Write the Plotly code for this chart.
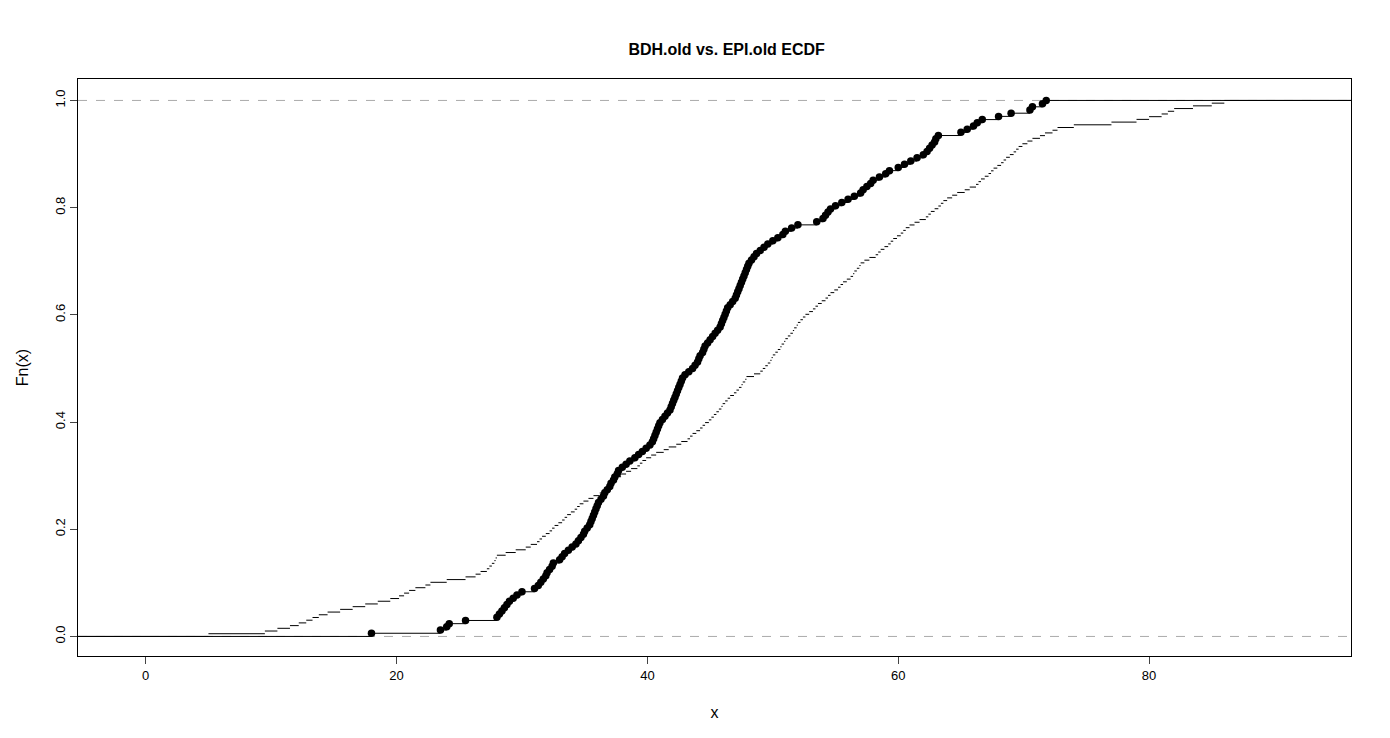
import numpy as np
import plotly.graph_objects as go

bdh_old = [18.0, 23.5, 24.0, 24.2, 25.5, 28.0,
    28.2, 28.4, 28.6, 28.8, 29.0, 29.3, 29.6, 30.0, 31.0,
    31.3, 31.5, 31.7, 31.9, 32.0, 32.2, 32.4, 32.5, 33.0, 33.2, 33.4,
    33.7, 34.0, 34.3, 34.5, 34.7, 34.9, 35.0, 35.2,
    35.4, 35.5, 35.6, 35.7, 35.8, 35.9, 36.0, 36.1,
    36.3, 36.5, 36.6, 36.8, 37.0, 37.1, 37.3, 37.4, 37.6, 37.7,
    38.0, 38.3, 38.6, 39.0, 39.3, 39.6, 39.9, 40.2, 40.4, 40.5,
    40.6, 40.7, 40.8, 40.9, 41.0, 41.2, 41.4, 41.6, 41.8, 41.9,
    42.0, 42.1, 42.2, 42.3, 42.4, 42.5, 42.6, 42.7, 42.8, 43.0, 43.3, 43.6, 43.8,
    44.0, 44.1, 44.2, 44.4, 44.5, 44.6, 44.8, 45.0, 45.2, 45.4, 45.6, 45.8,
    45.9, 46.0, 46.1, 46.2, 46.3, 46.4, 46.6, 46.8, 47.0, 47.1, 47.2, 47.3, 47.4,
    47.5, 47.6, 47.7, 47.8, 47.9, 48.0, 48.1, 48.3, 48.5, 48.7, 49.0,
    49.3, 49.6, 50.0, 50.4, 50.8, 51.0, 51.5, 52.0, 53.5, 54.0,
    54.2, 54.4, 54.6, 55.0, 55.5, 56.0, 56.5, 57.0, 57.2, 57.5, 57.8, 58.0,
    58.5, 59.0, 59.3, 60.0, 60.5, 61.0, 61.5, 62.0, 62.3, 62.5,
    62.7, 62.9, 63.0, 63.2, 65.0, 65.5, 66.0, 66.3, 66.7, 68.0, 69.0,
    70.5, 70.7, 71.5, 71.8]

epi_old = [5.0, 9.5, 10.5, 11.5, 12.2, 12.8, 13.3, 13.8, 14.5, 15.5, 16.5, 17.5,
    18.5, 19.5, 20.2, 20.6, 21.0, 21.5, 22.3, 22.7, 24.0, 25.5, 26.3, 26.7,
    27.2, 27.4, 27.6, 27.8, 27.9, 28.0, 28.7, 29.5, 30.3, 30.7,
    31.2, 31.4, 31.6, 31.9, 32.2, 32.4, 32.6, 32.9, 33.2, 33.4, 33.6, 33.9,
    34.2, 34.4, 34.6, 34.9, 35.3, 35.7, 36.2, 36.4, 36.6, 36.9,
    37.2, 37.4, 37.6, 37.9, 38.3, 38.7, 39.2, 39.4, 39.6, 39.9,
    40.3, 40.7, 41.3, 41.7, 42.3, 42.7, 43.2, 43.4, 43.6, 43.9,
    44.2, 44.4, 44.6, 44.9, 45.1, 45.3, 45.5, 45.7, 45.9, 46.0,
    46.2, 46.4, 46.6, 46.9, 47.1, 47.3, 47.5, 47.6, 47.8, 47.9, 48.5, 49.0,
    49.2, 49.4, 49.6, 49.8, 49.9, 50.0, 50.2, 50.4, 50.6, 50.7, 50.9, 51.0,
    51.2, 51.4, 51.6, 51.7, 51.9, 52.0, 52.2, 52.4, 52.6, 52.9,
    53.2, 53.4, 53.6, 53.9, 54.2, 54.4, 54.6, 54.9, 55.2, 55.4, 55.6, 55.9,
    56.2, 56.4, 56.5, 56.7, 56.9, 57.0, 57.3, 57.7, 58.2, 58.4, 58.6, 58.9,
    59.2, 59.4, 59.6, 59.9, 60.2, 60.4, 60.6, 60.9, 61.3, 61.7,
    62.2, 62.4, 62.6, 62.9, 63.2, 63.4, 63.6, 63.9, 64.3, 64.7, 65.3, 65.7,
    66.2, 66.4, 66.6, 66.9, 67.2, 67.4, 67.6, 67.9, 68.2, 68.4, 68.6, 68.9,
    69.2, 69.4, 69.6, 69.9, 70.3, 70.7, 71.3, 71.7, 72.3, 72.7, 74.0,
    77.0, 79.0, 80.0, 81.0, 81.5, 82.0, 83.5, 85.0, 86.0]

XMIN, XMAX = -5.4, 96.1

def ecdf_segments(vals):
    v = np.sort(np.array(vals))
    u, c = np.unique(v, return_counts=True)
    F = np.cumsum(c) / len(v)
    xs, ys = [XMIN, u[0], None], [0, 0, None]
    for i in range(len(u)):
        xe = u[i + 1] if i + 1 < len(u) else XMAX
        xs += [u[i], xe, None]
        ys += [F[i], F[i], None]
    return u, F, xs, ys

fig = go.Figure()
u, F, xs, ys = ecdf_segments(epi_old)
fig.add_trace(go.Scatter(x=xs, y=ys, mode="lines", line=dict(color="black", width=1),
                         showlegend=False, hoverinfo="skip"))
u, F, xs, ys = ecdf_segments(bdh_old)
fig.add_trace(go.Scatter(x=xs, y=ys, mode="lines", line=dict(color="black", width=1),
                         showlegend=False, hoverinfo="skip"))
fig.add_trace(go.Scatter(x=u, y=F, mode="markers", marker=dict(color="black", size=7.5),
                         showlegend=False))

for yv in (0, 1):
    fig.add_shape(type="line", xref="paper", x0=0, x1=1, y0=yv, y1=yv,
                  line=dict(color="#aaaaaa", width=1, dash="dash"), layer="below")

fig.update_layout(
    width=1390, height=738, plot_bgcolor="white", paper_bgcolor="white",
    font=dict(family="Liberation Sans, Arial", size=13, color="black"),
    title=dict(text="<b>BDH.old vs. EPI.old ECDF</b>", x=0.517, y=0.952, xanchor="center",
               font=dict(size=16)),
    margin=dict(l=70, r=47, t=71, b=90),
    xaxis=dict(range=[XMIN, XMAX], tickvals=[0, 20, 40, 60, 80], showgrid=False, zeroline=False,
               showline=True, linecolor="black", mirror=True, ticks="outside", ticklen=7,
               title=dict(text="x", standoff=25), automargin=False),
    yaxis=dict(range=[-0.0365, 1.04], tickvals=[0, 0.2, 0.4, 0.6, 0.8, 1.0],
               tickformat=".1f", tickangle=-90, showgrid=False, zeroline=False,
               showline=True, linecolor="black", mirror=True, ticks="outside", ticklen=7,
               title=dict(text="Fn(x)", standoff=20), automargin=False),
)
fig.write_html("out.html")
